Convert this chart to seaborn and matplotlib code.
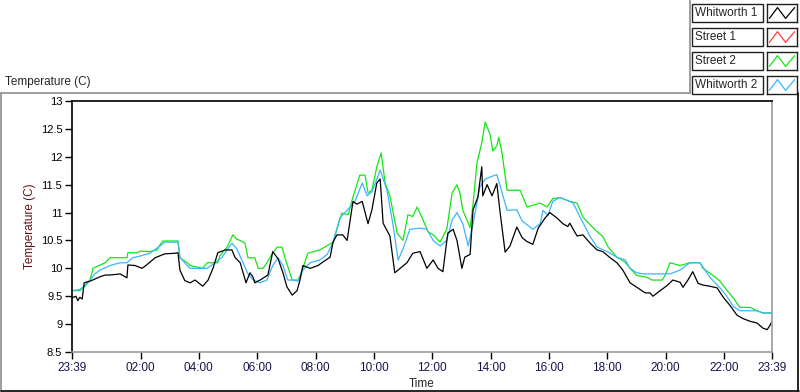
import numpy as np
import pandas as pd
import seaborn as sns
import matplotlib.pyplot as plt
from matplotlib.lines import Line2D
from matplotlib.patches import Rectangle
from matplotlib.ticker import FixedLocator, FuncFormatter

# time is minutes after midnight (23:39 the evening before is -21)
whitworth1_min = [-21, -13, -9, -5, 0, 4, 16, 37, 47, 57, 78, 92, 94, 109, 123, 131, 150, 170, 191, 197,
                  201, 211, 222, 232, 248, 259, 269, 279, 294, 308, 314, 325, 337, 345, 351, 355, 366, 382,
                  392, 403, 413, 421, 432, 442, 448, 454, 469, 485, 493, 510, 516, 524, 536, 545, 557, 565,
                  576, 582, 588, 596, 606, 613, 619, 633, 643, 654, 668, 680, 695, 709, 722, 732, 742, 752,
                  763, 771, 781, 787, 798, 804, 814, 822, 824, 833, 843, 853, 859, 870, 880, 894, 905, 915,
                  927, 938, 952, 962, 977, 989, 999, 1003, 1018, 1030, 1045, 1059, 1071, 1086, 1100, 1112,
                  1127, 1141, 1158, 1168, 1174, 1189, 1203, 1215, 1230, 1236, 1246, 1256, 1267, 1277, 1291,
                  1306, 1318, 1333, 1347, 1359, 1374, 1388, 1400, 1409, 1415, 1419]
whitworth1_temp = [9.47, 9.5, 9.42, 9.48, 9.45, 9.74, 9.77, 9.85, 9.88, 9.88, 9.9, 9.83, 10.06, 10.05, 10.0,
                   10.05, 10.19, 10.26, 10.27, 10.28, 9.97, 9.78, 9.74, 9.79, 9.68, 9.79, 10.0, 10.28, 10.33,
                   10.33, 10.2, 10.1, 9.74, 9.92, 9.85, 9.74, 9.79, 9.88, 10.3, 10.17, 9.92, 9.67, 9.52, 9.6,
                   9.79, 10.05, 10.0, 10.05, 10.1, 10.2, 10.47, 10.6, 10.6, 10.5, 11.2, 11.15, 11.2, 11.0,
                   10.8, 11.05, 11.53, 11.6, 10.81, 10.58, 9.92, 10.0, 10.1, 10.27, 10.3, 10.0, 10.15, 10.0,
                   9.94, 10.63, 10.7, 10.5, 10.0, 10.2, 10.25, 11.05, 11.28, 11.82, 11.3, 11.5, 11.3, 11.52,
                   11.05, 10.29, 10.4, 10.74, 10.55, 10.48, 10.43, 10.72, 10.9, 11.0, 10.9, 10.8, 10.75, 10.81,
                   10.58, 10.6, 10.45, 10.33, 10.3, 10.19, 10.1, 9.97, 9.74, 9.66, 9.56, 9.56, 9.5, 9.6, 9.69,
                   9.79, 9.75, 9.66, 9.79, 9.94, 9.73, 9.7, 9.68, 9.65, 9.49, 9.33, 9.16, 9.1, 9.05, 9.02,
                   8.93, 8.9, 8.98, 9.05]

street1_min = []
street1_temp = []

street2_min = [-21, -5, 6, 16, 20, 22, 47, 57, 92, 94, 113, 119, 139, 154, 160, 166, 197, 201, 216, 222, 248,
               257, 279, 283, 298, 310, 318, 325, 335, 341, 355, 362, 372, 380, 390, 401, 411, 417, 432, 444,
               452, 464, 489, 516, 534, 547, 557, 571, 582, 588, 596, 606, 615, 623, 633, 648, 660, 670, 680,
               689, 701, 711, 722, 736, 750, 761, 771, 777, 783, 798, 804, 812, 822, 829, 839, 845, 853, 857,
               864, 874, 901, 915, 942, 956, 968, 983, 1003, 1018, 1030, 1045, 1059, 1071, 1082, 1100, 1117,
               1127, 1141, 1162, 1172, 1193, 1199, 1209, 1230, 1250, 1271, 1277, 1298, 1312, 1326, 1339, 1353,
               1374, 1388, 1400, 1419]
street2_temp = [9.6, 9.6, 9.68, 9.79, 9.92, 10.0, 10.1, 10.19, 10.19, 10.28, 10.28, 10.31, 10.3, 10.33, 10.42,
                10.49, 10.49, 10.19, 10.1, 10.05, 10.0, 10.1, 10.1, 10.22, 10.38, 10.6, 10.52, 10.5, 10.45,
                10.19, 10.19, 10.0, 10.0, 10.1, 10.25, 10.38, 10.38, 10.19, 9.79, 9.79, 9.95, 10.27, 10.33,
                10.47, 10.99, 10.96, 11.28, 11.67, 11.67, 11.35, 11.4, 11.82, 12.07, 11.53, 11.3, 10.63, 10.5,
                10.96, 10.93, 11.1, 10.87, 10.66, 10.6, 10.47, 10.7, 11.35, 11.5, 11.35, 11.04, 10.73, 11.15,
                11.89, 12.25, 12.62, 12.4, 12.1, 12.2, 12.35, 12.05, 11.4, 11.4, 11.1, 11.17, 11.1, 11.25,
                11.27, 11.2, 11.17, 10.92, 10.78, 10.66, 10.57, 10.38, 10.2, 10.11, 10.0, 9.87, 9.84, 9.79,
                9.79, 9.87, 10.1, 10.05, 10.1, 10.1, 10.0, 9.87, 9.77, 9.61, 9.47, 9.3, 9.3, 9.24, 9.2, 9.2]

whitworth2_min = [-21, -5, 6, 16, 26, 37, 57, 78, 92, 104, 119, 139, 160, 170, 197, 201, 216, 222, 257, 273,
                  288, 298, 308, 318, 331, 341, 351, 366, 380, 392, 403, 413, 423, 434, 444, 454, 469, 489,
                  504, 516, 530, 551, 561, 576, 586, 596, 613, 627, 639, 650, 660, 674, 695, 709, 722, 736,
                  750, 761, 771, 783, 794, 804, 818, 829, 843, 853, 859, 874, 894, 905, 927, 942, 948, 958,
                  968, 983, 1003, 1010, 1024, 1045, 1059, 1080, 1100, 1117, 1127, 1141, 1154, 1209, 1230,
                  1250, 1271, 1291, 1312, 1326, 1339, 1353, 1388, 1400, 1419]
whitworth2_temp = [9.6, 9.62, 9.7, 9.79, 9.9, 9.97, 10.05, 10.1, 10.1, 10.19, 10.22, 10.27, 10.4, 10.47, 10.47,
                   10.2, 10.05, 10.0, 10.0, 10.1, 10.2, 10.33, 10.45, 10.35, 10.1, 9.9, 9.8, 9.74, 9.79, 10.05,
                   10.19, 10.05, 9.79, 9.79, 9.77, 9.97, 10.1, 10.15, 10.25, 10.47, 10.9, 11.1, 11.2, 11.53,
                   11.3, 11.37, 11.76, 11.4, 10.8, 10.15, 10.35, 10.7, 10.72, 10.7, 10.5, 10.4, 10.5, 10.87,
                   11.0, 10.8, 10.4, 10.8, 11.46, 11.6, 11.65, 11.68, 11.5, 11.04, 11.05, 10.85, 10.7, 10.8,
                   11.04, 10.95, 11.2, 11.27, 11.2, 11.17, 10.92, 10.57, 10.38, 10.3, 10.2, 10.15, 10.0, 9.92,
                   9.9, 9.9, 9.97, 10.1, 10.1, 9.84, 9.65, 9.5, 9.32, 9.24, 9.24, 9.2, 9.2]

names = ["Whitworth 1", "Street 1", "Street 2", "Whitworth 2"]
colors = ["#000000", "#ff3c3c", "#14e614", "#3cb4ff"]
y_ticks = [8.5, 9, 9.5, 10, 10.5, 11, 11.5, 12, 12.5, 13]
x_major = [-21, 120, 240, 360, 480, 600, 720, 840, 960, 1080, 1200, 1320, 1419]

frames = []
for name, t, v in [("Whitworth 1", whitworth1_min, whitworth1_temp),
                   ("Street 1", street1_min, street1_temp),
                   ("Street 2", street2_min, street2_temp),
                   ("Whitworth 2", whitworth2_min, whitworth2_temp)]:
    frames.append(pd.DataFrame({"time": t, "temp": v, "sensor": name}, dtype=object))
df = pd.concat(frames, ignore_index=True)
df["time"] = df["time"].astype(float)
df["temp"] = df["temp"].astype(float)

sns.set_style("white")
plt.rcParams["font.family"] = ["Liberation Sans", "DejaVu Sans"]
plt.rcParams["font.size"] = 8

W, H = 800, 392
fig = plt.figure(figsize=(8, 3.92), dpi=100)
ax = fig.add_axes([72 / W, 1 - 352 / H, 700 / W, 251 / H])

# draw order: green and blue under black
order = ["Street 2", "Whitworth 2", "Street 1", "Whitworth 1"]
for name in order:
    sub = df[df["sensor"] == name]
    if len(sub) == 0:
        continue
    sns.lineplot(data=sub, x="time", y="temp", color=colors[names.index(name)],
                 lw=0.9, estimator=None, sort=True, ax=ax, legend=False)

ax.set_xlim(-21, 1419)
ax.set_ylim(8.5, 13)
ax.yaxis.set_major_locator(FixedLocator(y_ticks))
ax.yaxis.set_major_formatter(FuncFormatter(lambda v, p: "%g" % v))
ax.xaxis.set_major_locator(FixedLocator(x_major))
ax.xaxis.set_minor_locator(FixedLocator(np.arange(0, 1419, 12)))
ax.xaxis.set_major_formatter(FuncFormatter(lambda v, p: "%02d:%02d" % divmod(int(round(v)) % 1440, 60)))
ax.tick_params(axis="both", which="major", direction="out", length=5, width=1, color="black", pad=2)
ax.tick_params(axis="x", which="minor", direction="out", length=3, width=1, color="black")
ax.tick_params(axis="x", labelcolor="#14144a", labelsize=8.5)
ax.tick_params(axis="y", labelcolor="#000000", labelsize=8, left=True)
ax.tick_params(axis="x", bottom=True)
ax.set_xlabel("Time", fontsize=8.5, labelpad=3)
ax.set_ylabel("Temperature (C)", fontsize=8.5, color="#6e1010", labelpad=3)
for side in ["left", "top"]:
    ax.spines[side].set_color("black")
    ax.spines[side].set_linewidth(1.2)
for side in ["right", "bottom"]:
    ax.spines[side].set_color("#9a9a9a")
    ax.spines[side].set_linewidth(1.2)

fig.text(5 / W, 1 - 82 / H, "Temperature (C)", fontsize=8.5, va="center", ha="left")

# outer panel frame
def fl(x0, y0, x1, y1, c):
    fig.add_artist(Line2D([x0 / W, x1 / W], [1 - y0 / H, 1 - y1 / H], color=c, lw=1.2,
                          transform=fig.transFigure))

fl(1, 93, 690, 93, "#8c8c8c")
fl(1, 93, 1, 391, "#8c8c8c")
fl(690, 0, 690, 93, "#8c8c8c")
fl(1, 391, 799, 391, "#000000")
fl(798, 93, 798, 391, "#000000")

# plot legend, LabVIEW style
for i, name in enumerate(names):
    top = 4 + 24 * i
    fig.add_artist(Rectangle((692 / W, 1 - (top + 18) / H), 71 / W, 18 / H, transform=fig.transFigure,
                             facecolor="white", edgecolor="#202020", lw=1.0))
    fig.text(695 / W, 1 - (top + 9) / H, name, fontsize=8.5, va="center", ha="left")
    sw = fig.add_axes([767 / W, 1 - (top + 18) / H, 30 / W, 18 / H])
    sw.plot([0.08, 0.35, 0.62, 0.92], [0.2, 0.8, 0.2, 0.8], color=colors[i], lw=0.9)
    sw.set_xlim(0, 1)
    sw.set_ylim(0, 1)
    sw.set_xticks([])
    sw.set_yticks([])
    for s in sw.spines.values():
        s.set_color("#202020")
        s.set_linewidth(1.0)

plt.savefig("out.png", dpi=100)
